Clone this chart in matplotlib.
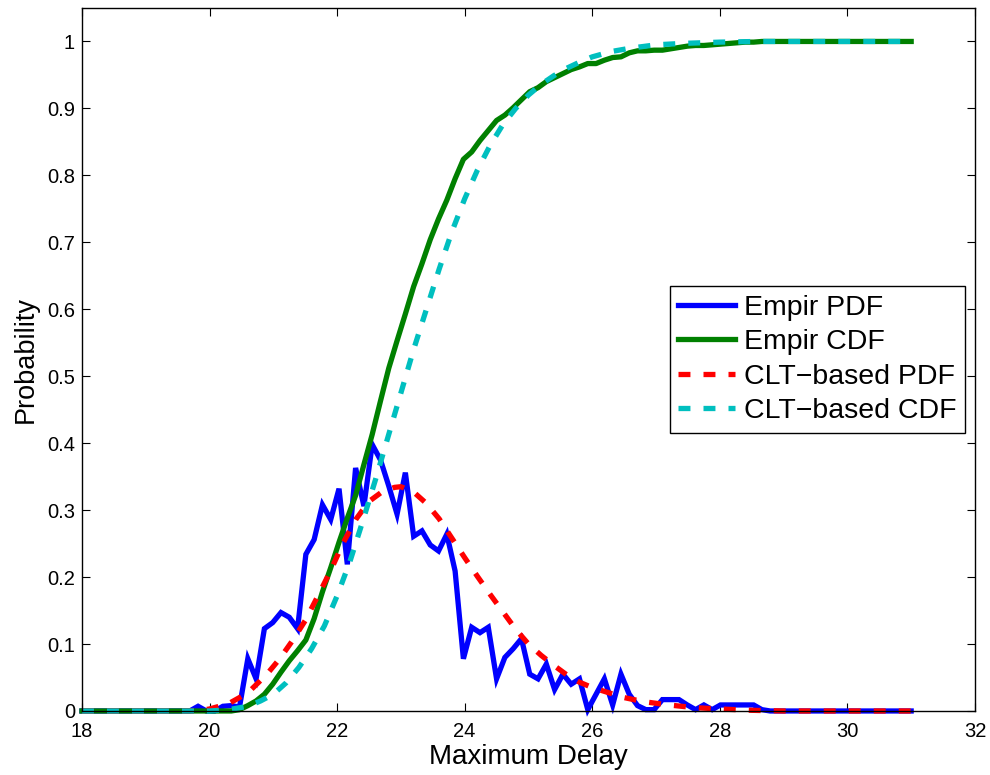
import numpy as np
import matplotlib
matplotlib.use('Agg')
import matplotlib.pyplot as plt

plt.rcParams['font.family'] = ['Liberation Sans', 'DejaVu Sans']
plt.rcParams['lines.scale_dashes'] = False

# bin grid of the empirical histogram (101 bins from 18 to 31)
delay = np.linspace(18, 31, 101)

empir_pdf = [
    0, 0, 0, 0, 0, 0, 0, 0, 0, 0,
    0, 0, 0, 0, 0.007, 0, 0, 0.007, 0.008, 0.006,
    0.078, 0.048, 0.123, 0.132, 0.147, 0.140, 0.123, 0.234, 0.256, 0.308,
    0.286, 0.332, 0.219, 0.363, 0.306, 0.398, 0.375, 0.336, 0.294, 0.356,
    0.261, 0.269, 0.248, 0.239, 0.264, 0.209, 0.078, 0.125, 0.117, 0.125,
    0.048, 0.080, 0.093, 0.108, 0.055, 0.048, 0.070, 0.032, 0.055, 0.040,
    0.048, 0.002, 0.025, 0.048, 0.009, 0.055, 0.025, 0.008, 0.002, 0.002,
    0.017, 0.017, 0.017, 0.009, 0.002, 0.009, 0.002, 0.009, 0.009, 0.009,
    0.009, 0.009, 0.002, 0, 0, 0, 0, 0, 0, 0,
    0, 0, 0, 0, 0, 0, 0, 0, 0, 0,
    0,
]

empir_cdf = [
    0, 0, 0, 0, 0, 0, 0, 0, 0, 0,
    0, 0, 0, 0, 0, 0, 0, 0, 0, 0.002,
    0.008, 0.015, 0.025, 0.040, 0.058, 0.075, 0.090, 0.106, 0.138, 0.178,
    0.214, 0.252, 0.288, 0.322, 0.368, 0.413, 0.463, 0.512, 0.553, 0.593,
    0.634, 0.668, 0.704, 0.735, 0.763, 0.795, 0.824, 0.835, 0.852, 0.867,
    0.882, 0.890, 0.901, 0.913, 0.925, 0.931, 0.940, 0.946, 0.952, 0.958,
    0.962, 0.967, 0.967, 0.972, 0.976, 0.977, 0.983, 0.986, 0.986, 0.987,
    0.987, 0.989, 0.991, 0.993, 0.994, 0.994, 0.995, 0.996, 0.997, 0.998,
    0.999, 0.999, 1, 1, 1, 1, 1, 1, 1, 1,
    1, 1, 1, 1, 1, 1, 1, 1, 1, 1,
    1,
]

clt_pdf_x = [18, 19.8, 20.0, 20.3, 20.6, 20.9, 21.1, 21.3, 21.5, 21.7,
             21.9, 22.1, 22.3, 22.5, 22.7, 22.9, 23.0, 23.2, 23.4, 23.6,
             23.8, 24.0, 24.2, 24.4, 24.6, 24.8, 25.0, 25.2, 25.4, 25.6,
             25.8, 26.0, 26.2, 26.5, 26.8, 27.2, 27.6, 28.0, 28.5, 29.0, 31]
clt_pdf = [0, 0, 0.003, 0.011, 0.027, 0.055, 0.078, 0.105, 0.135, 0.172,
           0.210, 0.252, 0.287, 0.313, 0.327, 0.334, 0.335, 0.327, 0.310, 0.287,
           0.258, 0.229, 0.201, 0.174, 0.148, 0.122, 0.100, 0.083, 0.068, 0.054,
           0.043, 0.035, 0.029, 0.020, 0.014, 0.009, 0.005, 0.003, 0.001, 0, 0]

clt_cdf_x = [18, 20.0, 20.3, 20.6, 20.8, 21.0, 21.2, 21.4, 21.6, 21.8,
             22.0, 22.2, 22.4, 22.6, 22.8, 23.0, 23.2, 23.4, 23.6, 23.8,
             24.0, 24.2, 24.4, 24.6, 24.8, 25.0, 25.2, 25.4, 25.6, 25.8,
             26.0, 26.3, 26.6, 27.0, 27.4, 28.0, 28.6, 31]
clt_cdf = [0, 0, 0.002, 0.007, 0.015, 0.025, 0.042, 0.065, 0.093, 0.127,
           0.172, 0.223, 0.283, 0.345, 0.410, 0.475, 0.540, 0.600, 0.660, 0.716,
           0.765, 0.808, 0.845, 0.876, 0.900, 0.920, 0.936, 0.949, 0.960, 0.969,
           0.977, 0.985, 0.990, 0.995, 0.997, 0.999, 1, 1]

labels = ['Empir PDF', 'Empir CDF', 'CLT\u2212based PDF', 'CLT\u2212based CDF']

fig = plt.figure(figsize=(9.9, 7.75), dpi=100)
ax = fig.add_axes([0.0828, 0.0826, 0.9020, 0.9071])

lw = 3.8
dash = (8.6, 9.4)
ax.plot(delay, empir_pdf, color='#0000ff', lw=lw, clip_on=False,
        solid_joinstyle='miter', label=labels[0])
ax.plot(delay, empir_cdf, color='#008000', lw=lw, clip_on=False,
        label=labels[1])
ax.plot(clt_pdf_x, clt_pdf, color='#ff0000', lw=lw, clip_on=False,
        dashes=dash, label=labels[2])
ax.plot(clt_cdf_x, clt_cdf, color='#00bfbf', lw=lw, clip_on=False,
        dashes=dash, label=labels[3])

ax.set_xlim(18, 32)
ax.set_ylim(0, 1.05)
ax.set_xticks(np.arange(18, 33, 2))
ax.set_yticks(np.arange(0, 1.01, 0.1))
ax.set_yticklabels(['0', '0.1', '0.2', '0.3', '0.4', '0.5', '0.6', '0.7',
                    '0.8', '0.9', '1'])
ax.tick_params(direction='in', length=6, width=0.8, labelsize=14.5,
               top=True, right=True)
ax.tick_params(axis='x', pad=8)
ax.tick_params(axis='y', pad=5)
for s in ax.spines.values():
    s.set_linewidth(1.0)

ax.set_xlabel('Maximum Delay', fontsize=20, labelpad=2)
ax.set_ylabel('Probability', fontsize=19.5, labelpad=6)

leg = ax.legend(loc='center right', fontsize=20.5, handlelength=2.0,
                handletextpad=0.3, borderaxespad=0.35, borderpad=0.3,
                labelspacing=0.3, fancybox=False, framealpha=1)
leg.get_frame().set_edgecolor('black')
leg.get_frame().set_linewidth(1.0)

fig.savefig('out.png', dpi=100)
